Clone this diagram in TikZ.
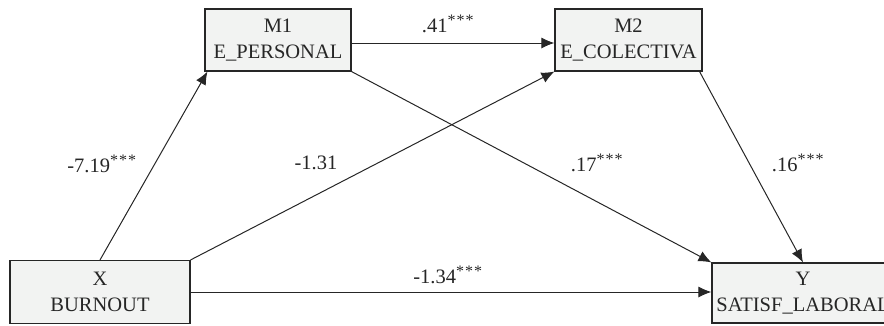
\documentclass[tikz,border=0pt]{standalone}
\usepackage{fontspec}
\setmainfont{Liberation Serif}
\usetikzlibrary{arrows.meta}
\definecolor{boxfill}{HTML}{F2F3F2}
\definecolor{ink}{HTML}{262626}
\tikzset{
  varbox/.style={draw=ink, fill=boxfill, line width=1.1pt, inner sep=0pt, align=center,
    font=\fontsize{20.5}{26}\selectfont, text=ink},
  conn/.style={draw=ink, line width=1pt, -{Latex[length=13pt,width=11pt]}},
  coef/.style={font=\fontsize{20.5}{24}\selectfont, text=ink, inner sep=0pt}
}
\newcommand{\stars}{\textsuperscript{\fontsize{16}{16}\selectfont *\kern1pt*\kern1pt*}}
\begin{document}
\begin{tikzpicture}[x=1pt,y=-1pt]
\useasboundingbox (0,0) rectangle (884,325);
\node[varbox, minimum width=180pt, minimum height=63pt] (X) at (100,292) {X\\BURNOUT};
\node[varbox, minimum width=146pt, minimum height=62pt] (M1) at (278,40) {M1\\E\_PERSONAL};
\node[varbox, minimum width=147pt, minimum height=62pt] (M2) at (628.5,40) {M2\\E\_COLECTIVA};
\node[varbox, minimum width=182pt, minimum height=60pt] (Y) at (803,293) {Y\\SATISF\_LABORAL};
\draw[conn] (X.north) -- ([xshift=3pt]M1.south west);
\draw[conn] (X.north east) -- (M2.south west);
\draw[conn] (X.east) -- (X.east -| Y.west);
\draw[conn] ([yshift=-3pt]M1.east) -- ([yshift=-3pt]M2.west);
\draw[conn] (M1.south east) -- (Y.north west);
\draw[conn] ([xshift=-3pt]M2.south east) -- (Y.north);
\node[coef] (l1) at (102,164) {-7.19\stars};
\node[coef] (l2) at (448,24) {.41\stars};
\node[coef] (l3) at (316,163) {-1.31};
\node[coef] (l4) at (597,163) {.17\stars};
\node[coef] (l5) at (798,163) {.16\stars};
\node[coef] (l6) at (448,275) {-1.34\stars};
\end{tikzpicture}
\end{document}
